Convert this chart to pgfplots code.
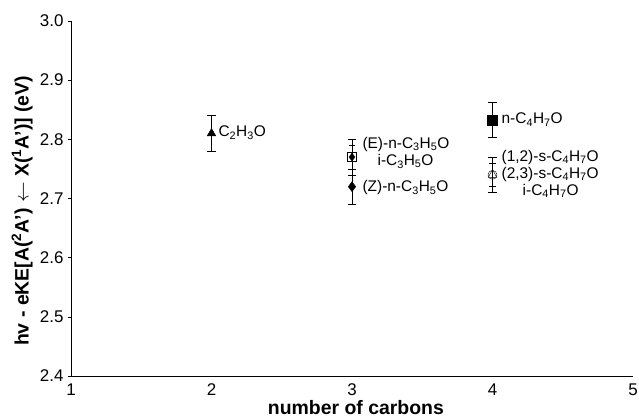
\documentclass[border=0pt]{standalone}
\usepackage{fontspec}
\setmainfont{Liberation Sans}
\usepackage{pgfplots}
\pgfplotsset{compat=1.18}
\begin{document}
\begin{tikzpicture}[font=\fontsize{15.5}{17}\selectfont]
\begin{axis}[
  name=ax,
  scale only axis,
  width=562bp, height=355bp,
  xmin=1, xmax=5, ymin=2.4, ymax=3.0,
  xtick={1,2,3,4,5}, ytick={2.4,2.5,...,3.0},
  yticklabel style={/pgf/number format/fixed,/pgf/number format/fixed zerofill,/pgf/number format/precision=1},
  /pgf/number format/assume math mode=true,
  ticklabel style={font=\fontsize{17}{19}\selectfont},
  axis x line*=bottom, axis y line*=left,
  tick align=outside, tick style={black, thin},
  major tick length=3pt,
  xtick style={draw=none},
  xticklabel style={yshift=-1pt},
  yticklabel style={xshift=-1pt},
  xlabel={number of carbons},
  ylabel={hv - eKE[A(\textsuperscript{2}A') $\leftarrow$ X(\textsuperscript{1}A')] (eV)},
  label style={font=\fontsize{19.5}{22}\selectfont\bfseries},
  xlabel style={at={(axis description cs:0.507,-0.089)}, anchor=center},
  ylabel style={at={(axis description cs:-0.087,0.465)}, anchor=center},
  axis line style={black, thin},
  clip=false,
]
% C2H3O
\addplot[black, only marks, mark=triangle*, mark size=5pt,
  error bars/.cd, y dir=both, y explicit, error mark options={rotate=90, mark size=4.5pt}]
  coordinates {(2,2.81) +- (0,0.03)};
% i-C3H5O (open square) and (E)-n-C3H5O
\addplot[black, only marks, mark=square, mark size=4.5pt,
  error bars/.cd, y dir=both, y explicit, error mark options={rotate=90, mark size=3.5pt}]
  coordinates {(3,2.77) +- (0,0.02)};
\addplot[black, only marks, mark=diamond*, mark size=4pt,
  error bars/.cd, y dir=both, y explicit, error mark options={rotate=90, mark size=4.5pt}]
  coordinates {(3,2.77) +- (0,0.03)};
% (Z)-n-C3H5O
\addplot[black, only marks, mark=diamond*, mark size=5pt,
  error bars/.cd, y dir=both, y explicit, error mark options={rotate=90, mark size=4.5pt}]
  coordinates {(3,2.72) +- (0,0.03)};
% n-C4H7O
\addplot[black, only marks, mark=square*, mark size=5pt,
  error bars/.cd, y dir=both, y explicit, error mark options={rotate=90, mark size=4.5pt}]
  coordinates {(4,2.833) +- (0,0.03)};
% s-C4H7O and i-C4H7O
\addplot[black, only marks, mark=triangle, mark size=5pt,
  error bars/.cd, y dir=both, y explicit, error mark options={rotate=90, mark size=4.5pt}]
  coordinates {(4,2.74) +- (0,0.03)};
\addplot[black, only marks, mark=o, mark size=4.5pt,
  error bars/.cd, y dir=both, y explicit, error mark options={rotate=90, mark size=3.5pt}]
  coordinates {(4,2.74) +- (0,0.02)};
\node[anchor=west] at (axis cs:2.025,2.811) {C\textsubscript{2}H\textsubscript{3}O};
\node[anchor=west] at (axis cs:3.05,2.792) {(E)-n-C\textsubscript{3}H\textsubscript{5}O};
\node[anchor=west] at (axis cs:3.157,2.763) {i-C\textsubscript{3}H\textsubscript{5}O};
\node[anchor=west] at (axis cs:3.05,2.718) {(Z)-n-C\textsubscript{3}H\textsubscript{5}O};
\node[anchor=west] at (axis cs:4.04,2.833) {n-C\textsubscript{4}H\textsubscript{7}O};
\node[anchor=west] at (axis cs:4.04,2.770) {(1,2)-s-C\textsubscript{4}H\textsubscript{7}O};
\node[anchor=west] at (axis cs:4.04,2.741) {(2,3)-s-C\textsubscript{4}H\textsubscript{7}O};
\node[anchor=west] at (axis cs:4.19,2.713) {i-C\textsubscript{4}H\textsubscript{7}O};
\end{axis}
\pgfresetboundingbox
\path[use as bounding box] ([xshift=-71bp,yshift=-43bp]ax.south west) rectangle ([xshift=6bp,yshift=21bp]ax.north east);
\end{tikzpicture}
\end{document}
